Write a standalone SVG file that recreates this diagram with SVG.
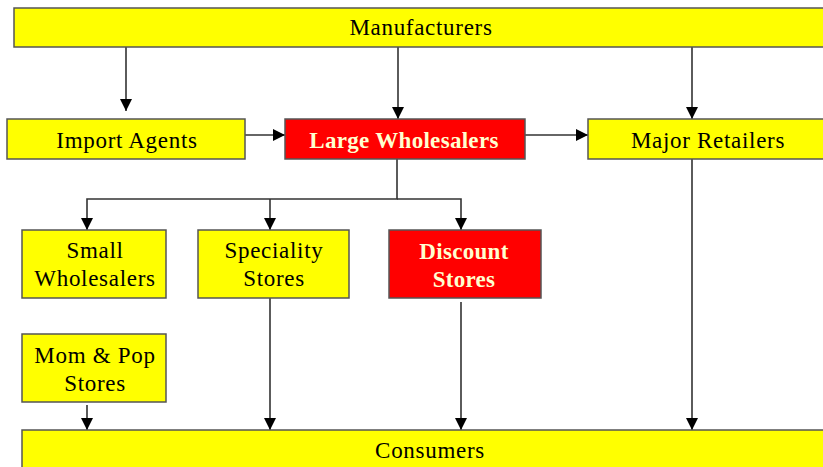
<svg xmlns="http://www.w3.org/2000/svg" width="823" height="467" viewBox="0 0 823 467">
<style>
.y{fill:#ffff00;stroke:#555;stroke-width:1.5}
.r{fill:#ff0000;stroke:#555;stroke-width:1.5}
text{font-family:'Liberation Serif','Times New Roman','DejaVu Serif',serif;font-size:23px;text-anchor:middle}
.t{fill:#000;letter-spacing:0.7px}
.b{font-weight:bold;fill:#ffffd0;letter-spacing:0.3px}
.c{stroke:#333;stroke-width:1.6;fill:none}
</style>
<defs>
<marker id="ah" viewBox="0 0 12 12" refX="12" refY="6" markerWidth="12" markerHeight="12" markerUnits="userSpaceOnUse" orient="auto">
<path d="M0,0 L12,6 L0,12 Z" fill="#000"/>
</marker>
</defs>
<g id="connectors">
<line class="c" x1="126" y1="47" x2="126" y2="111" marker-end="url(#ah)"/>
<line class="c" x1="398" y1="47" x2="398" y2="119" marker-end="url(#ah)"/>
<line class="c" x1="692" y1="47" x2="692" y2="119" marker-end="url(#ah)"/>
<line class="c" x1="245" y1="135" x2="285" y2="135" marker-end="url(#ah)"/>
<line class="c" x1="525" y1="135" x2="588" y2="135" marker-end="url(#ah)"/>
<polyline class="c" points="397,159 397,199 87,199 87,230" marker-end="url(#ah)"/>
<polyline class="c" points="397,199 461,199 461,230" marker-end="url(#ah)"/>
<line class="c" x1="270" y1="199" x2="270" y2="230" marker-end="url(#ah)"/>
<line class="c" x1="87" y1="405" x2="87" y2="430" marker-end="url(#ah)"/>
<line class="c" x1="270" y1="298" x2="270" y2="430" marker-end="url(#ah)"/>
<line class="c" x1="461" y1="302" x2="461" y2="430" marker-end="url(#ah)"/>
<line class="c" x1="692" y1="159" x2="692" y2="430" marker-end="url(#ah)"/>
</g>
<g id="manufacturers">
<rect class="y" x="14" y="8" width="820" height="39"/>
<text class="t" x="421" y="35">Manufacturers</text>
</g>
<g id="import-agents">
<rect class="y" x="7" y="119" width="238" height="40"/>
<text class="t" x="127" y="148">Import Agents</text>
</g>
<g id="large-wholesalers">
<rect class="r" x="285" y="119" width="240" height="40"/>
<text class="b" x="404" y="148">Large Wholesalers</text>
</g>
<g id="major-retailers">
<rect class="y" x="588" y="119" width="250" height="40"/>
<text class="t" x="708" y="148">Major Retailers</text>
</g>
<g id="small-wholesalers">
<rect class="y" x="22" y="230" width="144" height="68"/>
<text class="t" x="95" y="258">Small</text>
<text class="t" x="95" y="286">Wholesalers</text>
</g>
<g id="speciality-stores">
<rect class="y" x="198" y="230" width="151" height="68"/>
<text class="t" x="274" y="258">Speciality</text>
<text class="t" x="274" y="286">Stores</text>
</g>
<g id="discount-stores">
<rect class="r" x="389" y="230" width="152" height="68"/>
<text class="b" x="464" y="259">Discount</text>
<text class="b" x="464" y="287">Stores</text>
</g>
<g id="mom-pop-stores">
<rect class="y" x="22" y="334" width="144" height="68"/>
<text class="t" x="95" y="363">Mom &amp; Pop</text>
<text class="t" x="95" y="391">Stores</text>
</g>
<g id="consumers">
<rect class="y" x="22" y="430" width="820" height="45"/>
<text class="t" x="430" y="458">Consumers</text>
</g>
</svg>
